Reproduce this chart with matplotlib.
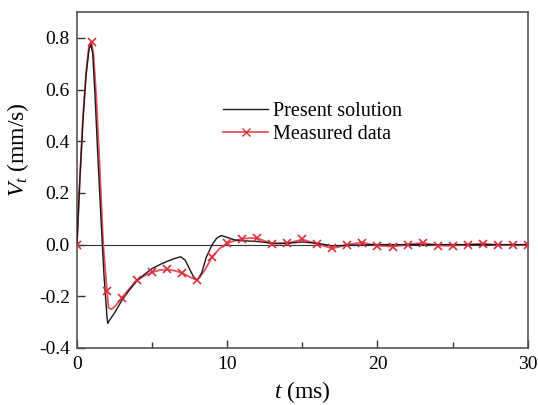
import matplotlib
matplotlib.use("Agg")
import matplotlib.pyplot as plt
from matplotlib.ticker import MultipleLocator, FormatStrFormatter
from matplotlib.lines import Line2D

plt.rcParams['font.family'] = ['Liberation Serif', 'DejaVu Serif']
plt.rcParams['mathtext.fontset'] = 'custom'
plt.rcParams['mathtext.rm'] = 'Liberation Serif'
plt.rcParams['mathtext.it'] = 'Liberation Serif:italic'
plt.rcParams['axes.unicode_minus'] = False

# Present solution (numerical curve)
solution_t = [0, 0.2, 0.4, 0.6, 0.8, 0.93, 1.05, 1.2, 1.4, 1.6, 1.8, 2.0, 2.05, 2.2, 2.5, 3.0,
              3.5, 4, 4.5, 5, 5.5, 6, 6.5, 6.9, 7.2, 7.5, 7.8, 8.0, 8.3, 8.6, 9.0, 9.3, 9.6,
              10, 10.5, 11, 12, 13, 14, 15, 16, 17, 18, 20, 22, 25, 30]
solution_v = [0, 0.26, 0.48, 0.65, 0.755, 0.775, 0.74, 0.58, 0.33, 0.10, -0.12, -0.28, -0.305,
              -0.29, -0.265, -0.215, -0.175, -0.14, -0.115, -0.093, -0.078, -0.065, -0.054,
              -0.047, -0.06, -0.095, -0.13, -0.138, -0.11, -0.05, 0.0, 0.025, 0.035, 0.028,
              0.018, 0.015, 0.012, 0.005, 0.005, 0.01, 0.005, -0.005, -0.003, 0, 0, 0, 0]

# Measured data: traced line
measured_line_t = [0, 0.2, 0.4, 0.6, 0.8, 0.95, 1.1, 1.3, 1.5, 1.75, 2.0, 2.1, 2.3, 2.6, 3, 3.5,
                   4, 4.5, 5, 5.5, 6, 6.5, 7, 7.5, 8, 8.5, 9, 9.5, 10, 10.5, 11, 11.5, 12, 13,
                   14, 15, 16, 17, 18, 19, 20, 21, 22, 23, 24, 25, 26, 27, 28, 29, 30]
measured_line_v = [0, 0.26, 0.49, 0.66, 0.77, 0.785, 0.74, 0.56, 0.32, 0.0, -0.18, -0.245,
                   -0.25, -0.235, -0.205, -0.17, -0.138, -0.12, -0.107, -0.099, -0.096, -0.101,
                   -0.11, -0.125, -0.138, -0.1, -0.047, -0.015, 0.005, 0.015, 0.022, 0.025,
                   0.025, 0.003, 0.005, 0.02, 0.002, -0.015, 0.0, 0.008, -0.004, -0.008, 0.0,
                   0.007, -0.004, -0.004, 0.0, 0.004, -0.002, -0.002, -0.002]

# Measured data: sample points
measured_t = list(range(0, 31))
measured_v = [0.0, 0.785, -0.18, -0.205, -0.138, -0.107, -0.096, -0.11, -0.138, -0.047, 0.005,
              0.022, 0.025, 0.003, 0.005, 0.02, 0.002, -0.015, 0.0, 0.008, -0.004, -0.008, 0.0,
              0.007, -0.004, -0.004, 0.0, 0.004, -0.002, -0.002, -0.002]

x_ticks = [0, 10, 20, 30]
y_ticks = [-0.4, -0.2, 0.0, 0.2, 0.4, 0.6, 0.8]

fig = plt.figure(figsize=(5.38, 4.05), dpi=100)
ax = fig.add_axes([0.143, 0.141, 0.838, 0.829])

ax.axhline(0, color='#333333', lw=0.8, zorder=1)
ax.plot(solution_t, solution_v, color='#1a1a1a', lw=1.0, zorder=3)
ax.plot(measured_line_t, measured_line_v, color='#e8505a', lw=1.3, zorder=2)
ax.plot(measured_t, measured_v, ls='none', marker='x', ms=6, mew=1.2, color='#d8303c', zorder=4)

h1 = Line2D([], [], color='#1a1a1a', lw=1.0)
h2 = Line2D([], [], color='#e8505a', lw=1.3, marker='x', ms=6, mew=1.0, mec='#d8303c')
ax.legend([h1, h2], ['Present solution', 'Measured data'], loc='upper left',
          bbox_to_anchor=(0.325, 0.732), frameon=False, fontsize=14.5, handlelength=2.2,
          handletextpad=0.25, labelspacing=0.2, borderaxespad=0, borderpad=0)

ax.set_xlim(0, 30)
ax.set_ylim(-0.4, 0.9)
ax.set_xticks(x_ticks)
ax.xaxis.set_minor_locator(MultipleLocator(5))
ax.set_yticks(y_ticks)
ax.yaxis.set_major_formatter(FormatStrFormatter('%.1f'))
ax.tick_params(axis='both', which='both', direction='in', top=False, right=False,
               labelsize=14, color='#333333')
ax.tick_params(which='major', length=6, width=1.0)
ax.tick_params(which='minor', length=4, width=1.0)
ax.tick_params(axis='x', which='major', pad=6)
ax.tick_params(axis='y', which='major', pad=5)
for s in ax.spines.values():
    s.set_color('#555555')
    s.set_linewidth(1.2)

ax.set_xlabel('$t$ (ms)', fontsize=17, labelpad=4)
ax.set_ylabel('$V_t$ (mm/s)', fontsize=17, labelpad=4)
ax.yaxis.set_label_coords(-0.102, 0.59)

fig.savefig('out.png', dpi=100)
